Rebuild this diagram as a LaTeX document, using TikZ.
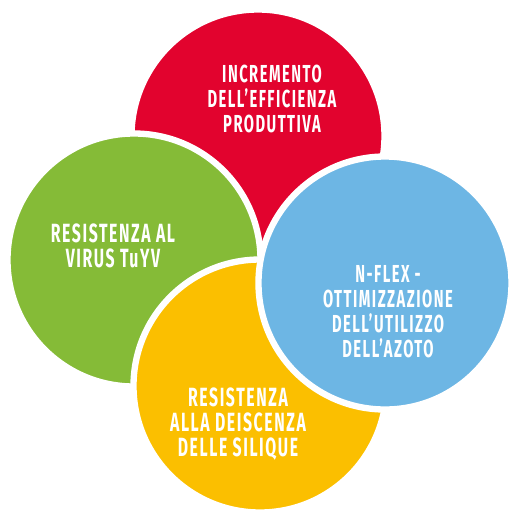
\documentclass[tikz,border=0pt]{standalone}
\usepackage{fontspec}
\newfontfamily\petalfont{Fira Sans}[FakeStretch=0.6,LetterSpace=6]
\usepackage{xcolor}

\definecolor{petalred}{HTML}{E2032E}
\definecolor{petalgreen}{HTML}{85BB37}
\definecolor{petalblue}{HTML}{6DB6E4}
\definecolor{petalyellow}{HTML}{FBBF00}

\tikzset{
  petal/.style={draw=white, line width=3.6},
  petaltext/.style={text=white, align=center, inner sep=0pt,
    font=\petalfont\bfseries\fontsize{14}{14.2}\selectfont},
  petaltextbig/.style={petaltext,
    font=\petalfont\bfseries\fontsize{15}{14}\selectfont}
}

\begin{document}
\begin{tikzpicture}[x = 0.02cm, y = -0.02cm]
\useasboundingbox (0,0) rectangle (510,512);

\filldraw[petal, fill=petalred] (258,136) circle (126.5);
\filldraw[petal, fill=petalgreen] (134,260) circle (126.5);
\filldraw[petal, fill=petalyellow] (260,386) circle (126.5);
\filldraw[petal, fill=petalblue] (385,283) circle (126.5);

\node[petaltext] (efficienza) at (272,99) {INCREMENTO\\DELL’EFFICIENZA\\PRODUTTIVA};
\node[petaltextbig] (virus) at (113,246) {RESISTENZA AL\\VIRUS TuYV};
\node[petaltext] (azoto) at (388,312) {N-FLEX -\\OTTIMIZZAZIONE\\DELL’UTILIZZO\\DELL’AZOTO};
\node[petaltextbig] (silique) at (238,424) {RESISTENZA\\ALLA DEISCENZA\\DELLE SILIQUE};
\end{tikzpicture}
\end{document}
